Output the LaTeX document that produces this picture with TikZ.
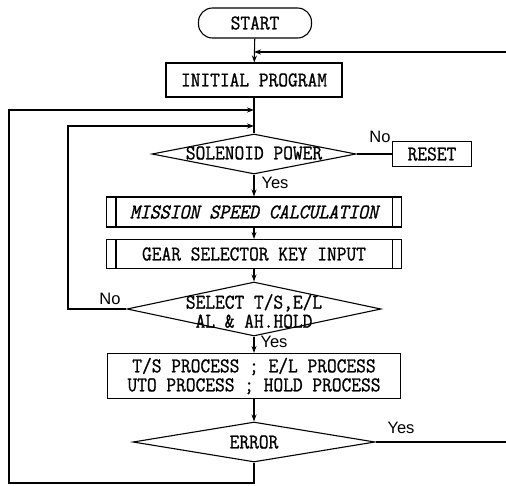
\documentclass[tikz,border=0pt]{standalone}
\usepackage{fontspec}
\newfontfamily\flowfont{Latin Modern Mono}[FakeStretch=0.9,FakeBold=1]
\newfontfamily\labelfont{Liberation Sans}
\usetikzlibrary{shapes.geometric,arrows.meta}
\tikzset{
    flowline/.style={line width=1.1pt},
    flowarrow/.style={flowline,-{Stealth[length=7pt,width=5pt]}},
    boxtext/.style={font=\flowfont\fontsize{21}{19}\selectfont,align=center,inner sep=0pt},
    process/.style={boxtext,draw,flowline,rectangle},
    decision/.style={draw,flowline,diamond,inner sep=0pt,aspect=1},
    yesno/.style={font=\labelfont\fontsize{16.5}{18}\selectfont,inner sep=0pt}
}
\begin{document}
\begin{tikzpicture}[x=1pt,y=-1pt]
	\useasboundingbox (0,0) rectangle (506,485);
	\node[process,rounded corners=14pt,minimum width=113pt,minimum height=30pt] (start) at (255,23) {START};
	\node[process,minimum width=176pt,minimum height=34pt] (init) at (254,80) {INITIAL PROGRAM};
	\node[decision,minimum width=204pt,minimum height=40pt] (sol) at (254,154) {};
	\node[boxtext] (solText) at (254,153) {SOLENOID POWER};
	\node[process,minimum width=79pt,minimum height=25pt] (reset) at (432,154) {RESET};
	\node[process,minimum width=295pt,minimum height=30pt] (msc) at (254,212) {\itshape MISSION SPEED CALCULATION};
	\node[process,minimum width=295pt,minimum height=29pt] (gear) at (254,254) {GEAR SELECTOR KEY INPUT};
	\node[decision,minimum width=254pt,minimum height=54pt] (sel) at (254,309) {};
	\node[boxtext] (selText) at (254,311) {SELECT T/S,E/L\\AL \& AH.HOLD};
	\node[process,minimum width=293pt,minimum height=45pt] (proc) at (254,376) {T/S PROCESS ; E/L PROCESS\\UTO PROCESS ; HOLD PROCESS};
	\node[decision,minimum width=242pt,minimum height=40pt] (err) at (254,442) {};
	\node[boxtext] (errText) at (254,442) {ERROR};
	% predefined process bars
	\foreach \blk in {msc,gear}{
		\draw[flowline] ([xshift=10pt]\blk.north west) -- ([xshift=10pt]\blk.south west);
		\draw[flowline] ([xshift=-10pt]\blk.north east) -- ([xshift=-10pt]\blk.south east);
	}
	\node[yesno] (solNo) at (380,137) {No};
	\node[yesno] (solYes) at (275,183) {Yes};
	\node[yesno] (selNo) at (110,299) {No};
	\node[yesno] (selYes) at (274,342) {Yes};
	\node[yesno] (errYes) at (401,428) {Yes};
	\coordinate (topJoin) at (254,52);
	\coordinate (topRight) at (506,52);
	\coordinate (errRight) at (506,442);
	\coordinate (outerJoin) at (254,110);
	\coordinate (innerJoin) at (254,126);
	\coordinate (innerLeft) at (68,126);
	\coordinate (bottomLeft) at (9,483);
	\draw[flowarrow] (start) -- (init);
	\draw[flowarrow] (topRight) -- (topJoin);
	\draw[flowline] (init) -- (sol);
	\draw[flowline] (sol) -- (reset);
	\draw[flowarrow] (sol) -- (msc);
	\draw[flowarrow] (msc) -- (gear);
	\draw[flowarrow] (gear) -- (sel);
	\draw[flowarrow] (sel) -- (proc);
	\draw[flowarrow] (proc) -- (err);
	\draw[flowline] (err) -- (errRight);
	\draw[flowarrow] (sel.west) -| (innerLeft) -- (innerJoin);
	\draw[flowarrow] (err.south) |- (bottomLeft) |- (outerJoin);
\end{tikzpicture}
\end{document}
